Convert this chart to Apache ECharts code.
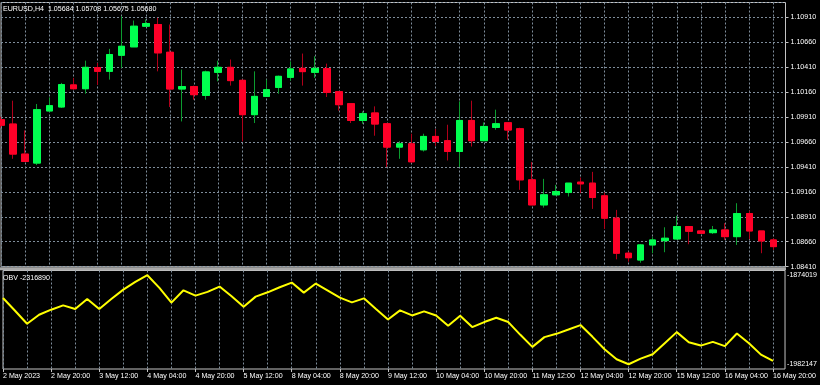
<!DOCTYPE html>
<html><head><meta charset="utf-8">
<script src="https://cdn.jsdelivr.net/npm/echarts@6/dist/echarts.min.js"></script>
<style>html,body{margin:0;padding:0;background:#000;}#c{width:820px;height:385px;}</style>
</head><body><div id="c"></div>
<script>
const symbolTitle = 'EURUSD,H4  1.05684 1.05708 1.05675 1.05680';
const obvTitle = 'OBV -2316890';
const times = [
 '2 May 04:00','2 May 08:00','2 May 12:00','2 May 16:00','2 May 20:00',
 '3 May 00:00','3 May 04:00','3 May 08:00','3 May 12:00','3 May 16:00','3 May 20:00',
 '4 May 00:00','4 May 04:00','4 May 08:00','4 May 12:00','4 May 16:00','4 May 20:00',
 '5 May 00:00','5 May 04:00','5 May 08:00','5 May 12:00','5 May 16:00','5 May 20:00',
 '8 May 00:00','8 May 04:00','8 May 08:00','8 May 12:00','8 May 16:00','8 May 20:00',
 '9 May 00:00','9 May 04:00','9 May 08:00','9 May 12:00','9 May 16:00','9 May 20:00',
 '10 May 00:00','10 May 04:00','10 May 08:00','10 May 12:00','10 May 16:00','10 May 20:00',
 '11 May 00:00','11 May 04:00','11 May 08:00','11 May 12:00','11 May 16:00','11 May 20:00',
 '12 May 00:00','12 May 04:00','12 May 08:00','12 May 12:00','12 May 16:00','12 May 20:00',
 '15 May 00:00','15 May 04:00','15 May 08:00','15 May 12:00','15 May 16:00','15 May 20:00',
 '16 May 00:00','16 May 04:00','16 May 08:00','16 May 12:00','16 May 16:00','16 May 20:00'
];
const tickLabels = ['2 May 2023','2 May 20:00','3 May 12:00','4 May 04:00','4 May 20:00','5 May 12:00',
 '8 May 04:00','8 May 20:00','9 May 12:00','10 May 04:00','10 May 20:00','11 May 12:00',
 '12 May 04:00','12 May 20:00','15 May 12:00','16 May 04:00','16 May 20:00'];
const open = [1.09882,1.09839,1.09538,1.09448,1.09970,1.10010,1.10231,1.10193,1.10404,1.10367,
 1.10528,1.10612,1.10819,1.10836,1.10558,1.10190,1.10214,1.10126,1.10357,1.10407,
 1.10277,1.09933,1.10116,1.10206,1.10307,1.10397,1.10357,1.10394,1.10163,1.10043,
 1.09875,1.09950,1.09842,1.09608,1.09641,1.09581,1.09715,1.09672,1.09564,1.09875,
 1.09672,1.09805,1.09852,1.09792,1.09280,1.09029,1.09130,1.09153,1.09257,1.09247,
 1.09120,1.08896,1.08545,1.08477,1.08628,1.08671,1.08688,1.08812,1.08768,1.08751,
 1.08778,1.08711,1.08942,1.08768,1.08678];
const close = [1.09827,1.09538,1.09464,1.09983,1.10023,1.10234,1.10193,1.10407,1.10367,1.10535,
 1.10618,1.10819,1.10846,1.10552,1.10190,1.10214,1.10133,1.10361,1.10407,1.10274,
 1.09933,1.10116,1.10183,1.10317,1.10391,1.10364,1.10397,1.10156,1.10033,1.09875,
 1.09943,1.09839,1.09608,1.09641,1.09461,1.09715,1.09665,1.09564,1.09875,1.09672,
 1.09815,1.09842,1.09779,1.09280,1.09029,1.09130,1.09163,1.09247,1.09240,1.09103,
 1.08896,1.08545,1.08500,1.08628,1.08678,1.08695,1.08812,1.08765,1.08745,1.08778,
 1.08711,1.08942,1.08768,1.08668,1.08611];
const high = [1.09912,1.10073,1.09775,1.10040,1.10106,1.10251,1.10301,1.10474,1.10451,1.10592,
 1.10919,1.10876,1.10886,1.10903,1.10836,1.10384,1.10224,1.10374,1.10474,1.10485,
 1.10284,1.10367,1.10284,1.10324,1.10467,1.10545,1.10518,1.10444,1.10163,1.10043,
 1.09966,1.10016,1.09842,1.09667,1.09742,1.09742,1.09789,1.09832,1.10066,1.10073,
 1.09855,1.09983,1.09852,1.09802,1.09458,1.09290,1.09230,1.09247,1.09303,1.09360,
 1.09153,1.08979,1.08561,1.08638,1.08705,1.08805,1.08919,1.08818,1.08773,1.08818,
 1.08846,1.09046,1.08969,1.08768,1.08695];
const low = [1.09802,1.09491,1.09461,1.09428,1.09963,1.10000,1.10183,1.10143,1.10231,1.10284,
 1.10401,1.10612,1.10813,1.10367,1.10010,1.09865,1.10083,1.10083,1.10267,1.10224,
 1.09665,1.09849,1.10110,1.10143,1.10274,1.10224,1.10301,1.10110,1.09973,1.09849,
 1.09842,1.09722,1.09408,1.09491,1.09448,1.09564,1.09621,1.09474,1.09408,1.09614,
 1.09667,1.09782,1.09682,1.09180,1.09029,1.09002,1.09125,1.09113,1.09147,1.08989,
 1.08788,1.08484,1.08460,1.08450,1.08545,1.08555,1.08683,1.08635,1.08740,1.08738,
 1.08678,1.08628,1.08685,1.08545,1.08578];
const obv = [-1901600,-1917099,-1932964,-1921981,-1915879,-1910631,-1915024,-1902820,-1915024,-1902820,
 -1891471,-1882074,-1874019,-1889396,-1907336,-1892325,-1898793,-1894278,-1887810,-1899647,
 -1912218,-1900014,-1894766,-1888664,-1882928,-1895132,-1884148,-1892691,-1901234,-1906970,
 -1902088,-1915024,-1927717,-1916733,-1922835,-1917953,-1922835,-1935405,-1923201,-1936992,
 -1930890,-1925642,-1930890,-1946389,-1961034,-1949196,-1945168,-1939921,-1934551,-1948830,
 -1963840,-1976044,-1982147,-1975312,-1969942,-1956518,-1943094,-1955298,-1959447,-1954932,
 -1960179,-1944802,-1956518,-1970431,-1978119];

const FONT = "'Liberation Sans',Arial,sans-serif";
const FS = 7.1;
const TXT = '#ffffff';
const GRIDC = '#7f8d9b';
const BORDER = '#c4c4c4';
const UP = '#00ff50', DN = '#ff0028', UPW = '#0c9c30', DNW = '#b0001a';

const cats = times.concat(['']);
const candleFull = open.map((o, i) => [o, close[i], low[i], high[i]]);
const candleBody = open.map((o, i) => [o, close[i], Math.min(o, close[i]), Math.max(o, close[i])]);
const obvMax = Math.max(...obv), obvMin = Math.min(...obv);

const chart = echarts.init(document.getElementById('c'), null, {renderer: 'canvas'});
const dotted = {color: GRIDC, width: 1, type: [2, 2]};
chart.setOption({
  backgroundColor: '#000000',
  animation: false,
  textStyle: {fontFamily: FONT},
  grid: [
    {left: 1, right: 34.5, top: 2.5, bottom: 118.3, show: true, borderColor: BORDER, borderWidth: 1, backgroundColor: 'transparent'},
    {left: 1, right: 34.5, top: 270.5, bottom: 16, show: true, borderColor: BORDER, borderWidth: 1, backgroundColor: 'transparent'}
  ],
  xAxis: [
    {type: 'category', gridIndex: 0, data: cats, boundaryGap: false,
     axisLine: {show: false}, axisTick: {show: false}, axisLabel: {show: false},
     splitLine: {show: true, interval: 1, lineStyle: dotted}},
    {type: 'category', gridIndex: 1, data: cats, boundaryGap: false,
     axisLine: {show: false},
     axisTick: {show: true, interval: 3, length: 3, lineStyle: {color: BORDER}},
     axisLabel: {show: true, interval: 3, margin: 4, align: 'left', color: TXT, fontFamily: FONT, fontSize: FS,
       hideOverlap: false,
       formatter: (v, i) => (i % 4 === 0 && tickLabels[i / 4]) ? tickLabels[i / 4] : ''},
     splitLine: {show: true, interval: 1, lineStyle: dotted}}
  ],
  yAxis: [
    {type: 'value', gridIndex: 0, position: 'right', min: 1.0841, max: 1.110565, interval: 0.0025, scale: true,
     axisLine: {show: false},
     axisTick: {show: true, length: 3, lineStyle: {color: BORDER}},
     axisLabel: {show: true, margin: 5, color: TXT, fontFamily: FONT, fontSize: FS, showMaxLabel: false,
       formatter: v => v.toFixed(5)},
     splitLine: {show: true, lineStyle: dotted}},
    {type: 'value', gridIndex: 1, position: 'right', min: -1987883, max: -1868283, scale: true,
     axisLine: {show: false},
     axisTick: {show: false, customValues: [obvMax, obvMin]},
     axisLabel: {show: true, margin: 2, color: TXT, fontFamily: FONT, fontSize: FS, customValues: [obvMax, obvMin],
       formatter: v => String(Math.round(v))},
     splitLine: {show: false}}
  ],
  series: [
    {type: 'candlestick', xAxisIndex: 0, yAxisIndex: 0, data: candleFull, barWidth: 7,
     itemStyle: {color: UP, color0: DN, borderColor: UPW, borderColor0: DNW, borderWidth: 1}, silent: true},
    {type: 'candlestick', xAxisIndex: 0, yAxisIndex: 0, data: candleBody, barWidth: 7,
     itemStyle: {color: UP, color0: DN, borderColor: UP, borderColor0: DN, borderWidth: 1}, silent: true},
    {type: 'line', xAxisIndex: 1, yAxisIndex: 1, data: obv, showSymbol: false, symbol: 'none',
     lineStyle: {color: '#ffff00', width: 2}, silent: true}
  ],
  graphic: [
    {type: 'rect', left: 0, top: 267.3, shape: {x: 0, y: 0, width: 786, height: 3}, style: {fill: '#a9a9a9'}, z: 100},
    {type: 'text', left: 3, top: 6, style: {text: symbolTitle, fill: TXT, font: FS + 'px ' + FONT}, z: 100},
    {type: 'text', left: 3, top: 274.5, style: {text: obvTitle, fill: TXT, font: FS + 'px ' + FONT}, z: 100}
  ]
});
</script>
</body></html>
